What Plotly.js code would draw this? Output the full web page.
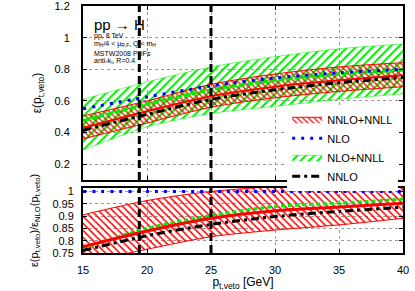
<!DOCTYPE html>
<html><head><meta charset="utf-8">
<script src="https://cdn.plot.ly/plotly-3.0.1.min.js"></script>
<style>html,body{margin:0;padding:0;background:#fff}</style>
</head><body><div id="chart" style="width:415px;height:291px"></div>
<script>
// p_t,veto grid (GeV)
const pt = [15, 20, 25, 30, 35, 40];
// top panel: efficiencies
const nlo        = [0.55, 0.625, 0.695, 0.745, 0.778, 0.80];
const nnlo       = [0.415, 0.515, 0.61, 0.67, 0.715, 0.748];
const nnloNnll   = [0.43, 0.535, 0.63, 0.69, 0.73, 0.762];
const nnloNnllLo = [0.36, 0.46, 0.56, 0.62, 0.66, 0.69];
const nnloNnllHi = [0.505, 0.60, 0.705, 0.77, 0.815, 0.842];
const nloNnll    = [0.475, 0.58, 0.67, 0.73, 0.77, 0.795];
const nloNnllLo  = [0.29, 0.435, 0.52, 0.565, 0.61, 0.645];
const nloNnllHi  = [0.61, 0.72, 0.815, 0.88, 0.93, 0.96];
// bottom panel: ratios to NLO
const rNlo        = [1, 1, 1, 1, 1, 1];
const rNnlo       = [0.76, 0.82, 0.866, 0.898, 0.919, 0.936];
const rNnloNnll   = [0.775, 0.839, 0.891, 0.922, 0.937, 0.952];
const rNnloNnllLo = [0.71, 0.765, 0.816, 0.843, 0.864, 0.891];
const rNnloNnllHi = [0.905, 0.963, 1.0, 1.02, 1.035, 1.045];
const rNloNnll    = [0.77, 0.85, 0.902, 0.939, 0.952, 0.969];
// vertical reference cuts
const vetoCuts = [19.4, 25];

const RED = '#ff0000', GREEN = '#00ee00', BLUE = '#0000ff', BLACK = '#000000';
const sp = {shape: 'spline', smoothing: 0.8};
function ln(color, width, dash) { return Object.assign({color: color, width: width, dash: dash || 'solid'}, sp); }

const traces = [
  // ---- top panel ----
  {x: pt, y: nloNnllLo, xaxis: 'x2', yaxis: 'y2', mode: 'lines', line: ln(GREEN, 0.5), showlegend: false, hoverinfo: 'skip'},
  {x: pt, y: nloNnllHi, xaxis: 'x2', yaxis: 'y2', mode: 'lines', line: ln(GREEN, 0.5), fill: 'tonexty',
   fillcolor: 'rgba(0,0,0,0)', fillpattern: {shape: '/', fgcolor: GREEN, bgcolor: 'rgba(255,255,255,0)', size: 6, solidity: 0.35},
   name: 'NLO+NNLL', legendrank: 3},
  {x: pt, y: nnloNnllLo, xaxis: 'x2', yaxis: 'y2', mode: 'lines', line: ln(RED, 1), showlegend: false, hoverinfo: 'skip'},
  {x: pt, y: nnloNnllHi, xaxis: 'x2', yaxis: 'y2', mode: 'lines', line: ln(RED, 1), fill: 'tonexty',
   fillcolor: 'rgba(0,0,0,0)', fillpattern: {shape: '\\', fgcolor: RED, bgcolor: 'rgba(255,255,255,0)', size: 4, solidity: 0.3},
   name: 'NNLO+NNLL', legendrank: 1},
  {x: pt, y: nloNnll, xaxis: 'x2', yaxis: 'y2', mode: 'lines', line: ln(GREEN, 3, '6px,2px'), showlegend: false},
  {x: pt, y: nnloNnll, xaxis: 'x2', yaxis: 'y2', mode: 'lines', line: ln(RED, 2), showlegend: false},
  {x: pt, y: nnlo, xaxis: 'x2', yaxis: 'y2', mode: 'lines', line: ln(BLACK, 3, '8px,4px,3px,4px'), name: 'NNLO', legendrank: 4},
  {x: pt, y: nlo, xaxis: 'x2', yaxis: 'y2', mode: 'lines', line: ln(BLUE, 3, '3px,6px'), name: 'NLO', legendrank: 2},
  // ---- bottom panel ----
  {x: pt, y: rNnloNnllLo, xaxis: 'x', yaxis: 'y', mode: 'lines', line: ln(RED, 1), showlegend: false, hoverinfo: 'skip'},
  {x: pt, y: rNnloNnllHi, xaxis: 'x', yaxis: 'y', mode: 'lines', line: ln(RED, 1), fill: 'tonexty',
   fillcolor: 'rgba(0,0,0,0)', fillpattern: {shape: '\\', fgcolor: RED, bgcolor: 'rgba(255,255,255,0)', size: 5, solidity: 0.3},
   showlegend: false},
  {x: pt, y: rNloNnll, xaxis: 'x', yaxis: 'y', mode: 'lines', line: ln(GREEN, 3, '4px,3px'), showlegend: false},
  {x: pt, y: rNnloNnll, xaxis: 'x', yaxis: 'y', mode: 'lines', line: ln(RED, 3), showlegend: false},
  {x: pt, y: rNnlo, xaxis: 'x', yaxis: 'y', mode: 'lines', line: ln(BLACK, 3, '8px,4px,3px,4px'), showlegend: false},
  {x: pt, y: rNlo, xaxis: 'x', yaxis: 'y', mode: 'lines', line: ln(BLUE, 3, '3px,6px'), showlegend: false}
];

const FONT = 'Liberation Sans, Arial, sans-serif';
const axisCommon = {
  showline: true, linewidth: 2, linecolor: BLACK, mirror: 'allticks',
  ticks: 'inside', ticklen: 4, tickwidth: 1, tickcolor: BLACK,
  showgrid: true, gridcolor: '#9a9a9a', griddash: 'dot', gridwidth: 1,
  zeroline: false, tickfont: {family: FONT, size: 11, color: BLACK}, ticklabeloverflow: 'allow'
};

const shapes = [];
vetoCuts.forEach(function (c) {
  ['y domain', 'y2 domain'].forEach(function (yr, i) {
    shapes.push({type: 'line', xref: i === 0 ? 'x' : 'x2', yref: yr, x0: c, x1: c, y0: 0, y1: 1,
      line: {color: BLACK, width: 3, dash: '8px,4px'}, layer: 'above'});
  });
});

const textLines = [
  {t: 'pp, 8 TeV', y: 36},
  {t: 'm<sub>H</sub>/4 &lt; μ<sub>R,F</sub>, Q &lt; m<sub>H</sub>', y: 44},
  {t: 'MSTW2008 PDFs', y: 53},
  {t: 'anti-k<sub>t</sub>, R=0.4', y: 61}
];
const annotations = [{
  xref: 'paper', yref: 'paper', x: (92 - 83) / 320, y: (253 - 25) / 247, xanchor: 'left', yanchor: 'middle',
  text: 'pp → H', showarrow: false, font: {family: FONT, size: 15, color: BLACK}
}];
textLines.forEach(function (l) {
  annotations.push({xref: 'paper', yref: 'paper', x: (92 - 83) / 320, y: (253 - l.y) / 247,
    xanchor: 'left', yanchor: 'middle', text: l.t, showarrow: false,
    font: {family: FONT, size: 7, color: BLACK}});
});

const layout = {
  width: 415, height: 291,
  margin: {l: 83, r: 12, t: 6, b: 38, pad: 0},
  paper_bgcolor: '#fff', plot_bgcolor: '#fff',
  font: {family: FONT, size: 11, color: BLACK},
  showlegend: true,
  legend: {x: 0.985, y: 0.6, xanchor: 'right', yanchor: 'top', bgcolor: '#fff', borderwidth: 0,
    traceorder: 'normal', font: {family: FONT, size: 11, color: BLACK}, tracegroupgap: 0},
  xaxis: Object.assign({}, axisCommon, {domain: [0, 1], anchor: 'y', range: [15, 40], dtick: 5, tick0: 0,
    ticklabelstandoff: 6,
    title: {text: 'p<sub>t,veto</sub> [GeV]', font: {family: FONT, size: 12}, standoff: 14}}),
  xaxis2: Object.assign({}, axisCommon, {domain: [0, 1], anchor: 'y2', matches: 'x', range: [15, 40], dtick: 5, tick0: 0,
    showticklabels: false}),
  yaxis: Object.assign({}, axisCommon, {domain: [0, 65 / 247], anchor: 'x', range: [0.7499, 1.014], dtick: 0.05, tick0: 0,
    ticklabelstandoff: 5,
    title: {text: 'ε(p<sub>t,veto</sub>)/ε<sub>NLO</sub>(p<sub>t,veto</sub>)', font: {family: FONT, size: 11}, standoff: 12}}),
  yaxis2: Object.assign({}, axisCommon, {domain: [73 / 247, 1], anchor: 'x2', range: [0.1, 1.2002], dtick: 0.2, tick0: 0,
    ticklabelstandoff: 9,
    title: {text: 'ε(p<sub>t,veto</sub>)', font: {family: FONT, size: 12}, standoff: 10}}),
  shapes: shapes,
  annotations: annotations
};

Plotly.newPlot('chart', traces, layout, {displayModeBar: false, staticPlot: true});
</script>
</body></html>
